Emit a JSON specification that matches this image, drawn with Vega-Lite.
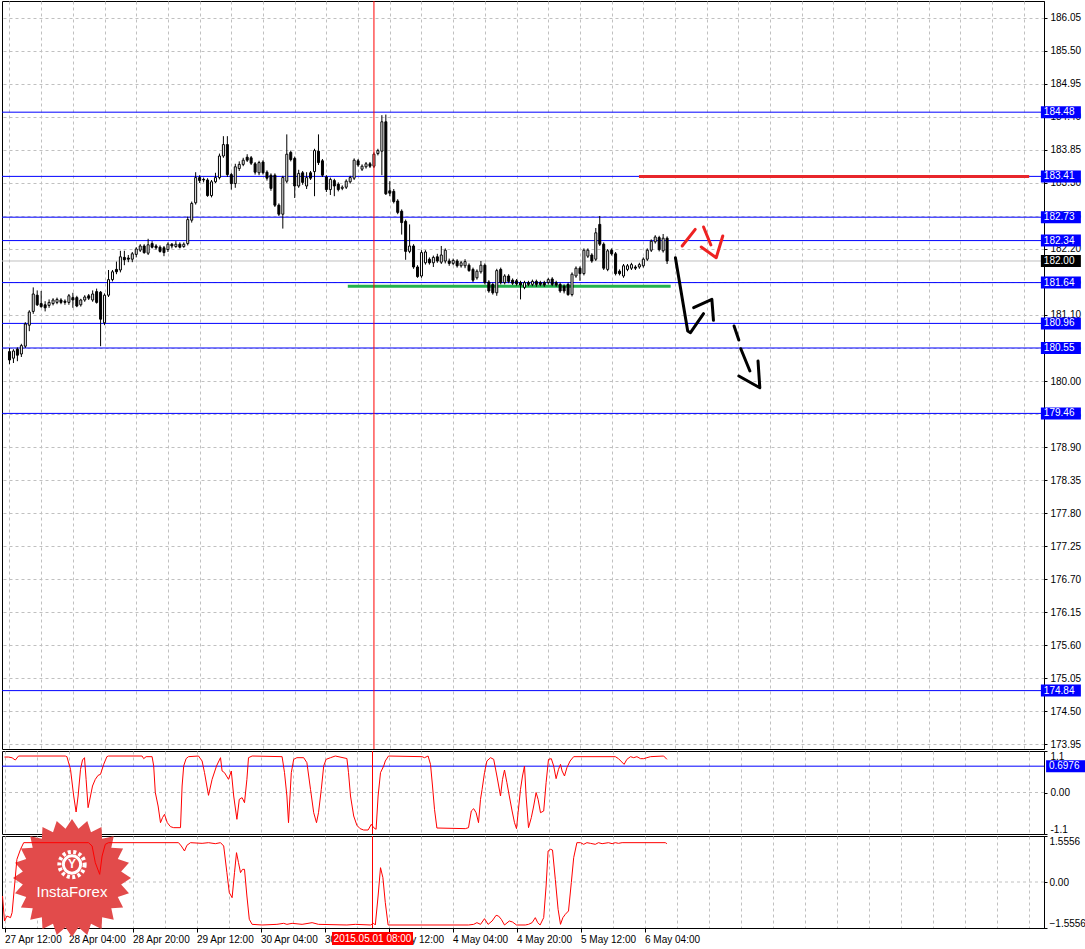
{
  "$schema": "https://vega.github.io/schema/vega-lite/v6.json",
  "background": "#ffffff",
  "padding": 0,
  "spacing": 2,
  "bounds": "flush",
  "config": {
    "view": {"stroke": "#000000", "strokeWidth": 1},
    "font": "Liberation Sans",
    "axis": {"labelFont": "Liberation Sans", "labelFontSize": 10, "labelColor": "#000000", "tickColor": "#000000", "domainColor": "#000000", "gridColor": "#c0c0c0", "gridDash": [3, 3], "gridWidth": 1}
  },
  "datasets": {
    "one": [{}],
    "candles": [
      {"i":0,"o":180.49,"h":180.55,"l":180.28,"c":180.35},{"i":1,"o":180.38,"h":180.53,"l":180.3,"c":180.5},{"i":2,"o":180.53,"h":180.56,"l":180.33,"c":180.43},{"i":3,"o":180.45,"h":180.62,"l":180.4,"c":180.59},{"i":4,"o":180.58,"h":180.98,"l":180.55,"c":180.95},{"i":5,"o":180.93,"h":181.18,"l":180.83,"c":181.15},{"i":6,"o":181.16,"h":181.56,"l":181.12,"c":181.45},{"i":7,"o":181.43,"h":181.51,"l":181.25,"c":181.27},{"i":8,"o":181.29,"h":181.5,"l":181.22,"c":181.24},{"i":9,"o":181.27,"h":181.33,"l":181.16,"c":181.22},
      {"i":10,"o":181.26,"h":181.36,"l":181.22,"c":181.31},{"i":11,"o":181.29,"h":181.38,"l":181.26,"c":181.35},{"i":12,"o":181.31,"h":181.39,"l":181.28,"c":181.36},{"i":13,"o":181.35,"h":181.38,"l":181.28,"c":181.31},{"i":14,"o":181.33,"h":181.36,"l":181.27,"c":181.31},{"i":15,"o":181.31,"h":181.45,"l":181.27,"c":181.42},{"i":16,"o":181.39,"h":181.47,"l":181.22,"c":181.35},{"i":17,"o":181.39,"h":181.42,"l":181.23,"c":181.25},{"i":18,"o":181.27,"h":181.37,"l":181.24,"c":181.35},{"i":19,"o":181.35,"h":181.43,"l":181.32,"c":181.4},
      {"i":20,"o":181.42,"h":181.45,"l":181.35,"c":181.38},{"i":21,"o":181.35,"h":181.51,"l":181.32,"c":181.45},{"i":22,"o":181.49,"h":181.54,"l":181.29,"c":181.31},{"i":23,"o":181.48,"h":181.5,"l":180.58,"c":181.03},{"i":24,"o":180.97,"h":181.46,"l":180.93,"c":181.43},{"i":25,"o":181.43,"h":181.85,"l":181.4,"c":181.69},{"i":26,"o":181.69,"h":181.85,"l":181.66,"c":181.82},{"i":27,"o":181.86,"h":181.99,"l":181.78,"c":181.82},{"i":28,"o":181.85,"h":182.17,"l":181.81,"c":182.07},{"i":29,"o":182.06,"h":182.17,"l":181.93,"c":182.02},
      {"i":30,"o":182.05,"h":182.1,"l":181.98,"c":182.03},{"i":31,"o":182.03,"h":182.15,"l":181.98,"c":182.12},{"i":32,"o":182.11,"h":182.23,"l":182.06,"c":182.2},{"i":33,"o":182.18,"h":182.28,"l":182.15,"c":182.25},{"i":34,"o":182.25,"h":182.28,"l":182.12,"c":182.14},{"i":35,"o":182.13,"h":182.37,"l":182.1,"c":182.27},{"i":36,"o":182.29,"h":182.33,"l":182.21,"c":182.23},{"i":37,"o":182.25,"h":182.28,"l":182.19,"c":182.22},{"i":38,"o":182.23,"h":182.26,"l":182.14,"c":182.16},{"i":39,"o":182.22,"h":182.25,"l":182.08,"c":182.14},
      {"i":40,"o":182.19,"h":182.31,"l":182.15,"c":182.28},{"i":41,"o":182.28,"h":182.3,"l":182.21,"c":182.25},{"i":42,"o":182.24,"h":182.33,"l":182.22,"c":182.28},{"i":43,"o":182.28,"h":182.31,"l":182.21,"c":182.23},{"i":44,"o":182.24,"h":182.31,"l":182.22,"c":182.28},{"i":45,"o":182.29,"h":182.74,"l":182.26,"c":182.69},{"i":46,"o":182.68,"h":182.99,"l":182.64,"c":182.96},{"i":47,"o":182.97,"h":183.48,"l":182.94,"c":183.39},{"i":48,"o":183.39,"h":183.43,"l":183.3,"c":183.34},{"i":49,"o":183.36,"h":183.39,"l":183.31,"c":183.35},
      {"i":50,"o":183.35,"h":183.38,"l":183.07,"c":183.09},{"i":51,"o":183.09,"h":183.35,"l":183.06,"c":183.32},{"i":52,"o":183.32,"h":183.47,"l":183.3,"c":183.39},{"i":53,"o":183.39,"h":183.79,"l":183.36,"c":183.75},{"i":54,"o":183.75,"h":184.08,"l":183.72,"c":183.94},{"i":55,"o":183.94,"h":184.08,"l":183.4,"c":183.44},{"i":56,"o":183.44,"h":183.47,"l":183.19,"c":183.29},{"i":57,"o":183.29,"h":183.62,"l":183.22,"c":183.57},{"i":58,"o":183.54,"h":183.66,"l":183.5,"c":183.61},{"i":59,"o":183.61,"h":183.72,"l":183.58,"c":183.68},
      {"i":60,"o":183.73,"h":183.78,"l":183.65,"c":183.68},{"i":61,"o":183.72,"h":183.75,"l":183.6,"c":183.63},{"i":62,"o":183.62,"h":183.65,"l":183.44,"c":183.48},{"i":63,"o":183.47,"h":183.67,"l":183.43,"c":183.64},{"i":64,"o":183.65,"h":183.68,"l":183.44,"c":183.47},{"i":65,"o":183.48,"h":183.51,"l":183.34,"c":183.38},{"i":66,"o":183.43,"h":183.46,"l":183.17,"c":183.21},{"i":67,"o":183.43,"h":183.46,"l":182.9,"c":182.93},{"i":68,"o":182.93,"h":182.96,"l":182.75,"c":182.78},{"i":69,"o":182.78,"h":183.42,"l":182.54,"c":183.39},
      {"i":70,"o":183.33,"h":184.11,"l":183.3,"c":183.78},{"i":71,"o":183.81,"h":183.84,"l":183.66,"c":183.69},{"i":72,"o":183.71,"h":183.74,"l":183.05,"c":183.25},{"i":73,"o":183.25,"h":183.52,"l":183.22,"c":183.46},{"i":74,"o":183.47,"h":183.5,"l":183.27,"c":183.31},{"i":75,"o":183.25,"h":183.48,"l":183.2,"c":183.39},{"i":76,"o":183.47,"h":183.5,"l":183.35,"c":183.38},{"i":77,"o":183.49,"h":183.87,"l":183.08,"c":183.84},{"i":78,"o":183.83,"h":184.11,"l":183.6,"c":183.64},{"i":79,"o":183.67,"h":183.7,"l":183.4,"c":183.43},
      {"i":80,"o":183.4,"h":183.43,"l":183.15,"c":183.19},{"i":81,"o":183.19,"h":183.39,"l":183.1,"c":183.36},{"i":82,"o":183.34,"h":183.37,"l":183.08,"c":183.25},{"i":83,"o":183.28,"h":183.31,"l":183.16,"c":183.19},{"i":84,"o":183.21,"h":183.26,"l":183.18,"c":183.23},{"i":85,"o":183.23,"h":183.36,"l":183.2,"c":183.33},{"i":86,"o":183.32,"h":183.42,"l":183.29,"c":183.39},{"i":87,"o":183.38,"h":183.71,"l":183.35,"c":183.68},{"i":88,"o":183.67,"h":183.7,"l":183.57,"c":183.6},{"i":89,"o":183.53,"h":183.61,"l":183.5,"c":183.58},
      {"i":90,"o":183.57,"h":183.65,"l":183.54,"c":183.62},{"i":91,"o":183.62,"h":183.65,"l":183.55,"c":183.58},{"i":92,"o":183.58,"h":183.81,"l":183.55,"c":183.78},{"i":93,"o":183.79,"h":183.87,"l":183.76,"c":183.84},{"i":94,"o":183.83,"h":184.43,"l":183.43,"c":184.32},{"i":95,"o":184.32,"h":184.44,"l":183.1,"c":183.12},{"i":96,"o":183.17,"h":183.33,"l":183.08,"c":183.13},{"i":97,"o":183.16,"h":183.2,"l":182.96,"c":182.99},{"i":98,"o":183.0,"h":183.03,"l":182.78,"c":182.81},{"i":99,"o":182.83,"h":182.86,"l":182.44,"c":182.64},
      {"i":100,"o":182.66,"h":182.69,"l":182.02,"c":182.16},{"i":101,"o":182.16,"h":182.61,"l":182.13,"c":182.25},{"i":102,"o":182.25,"h":182.28,"l":181.87,"c":181.9},{"i":103,"o":181.9,"h":181.93,"l":181.72,"c":181.74},{"i":104,"o":181.75,"h":182.18,"l":181.72,"c":182.14},{"i":105,"o":181.97,"h":182.18,"l":181.94,"c":182.15},{"i":106,"o":182.03,"h":182.06,"l":181.94,"c":181.97},{"i":107,"o":181.97,"h":182.09,"l":181.9,"c":182.06},{"i":108,"o":182.07,"h":182.12,"l":181.97,"c":182.0},{"i":109,"o":181.98,"h":182.25,"l":181.95,"c":182.1},
      {"i":110,"o":182.0,"h":182.21,"l":181.96,"c":182.18},{"i":111,"o":182.0,"h":182.04,"l":181.92,"c":181.96},{"i":112,"o":181.96,"h":182.04,"l":181.93,"c":182.01},{"i":113,"o":182.0,"h":182.03,"l":181.89,"c":181.92},{"i":114,"o":181.92,"h":182.0,"l":181.89,"c":181.97},{"i":115,"o":181.92,"h":182.03,"l":181.88,"c":181.99},{"i":116,"o":181.93,"h":181.96,"l":181.82,"c":181.84},{"i":117,"o":181.86,"h":181.89,"l":181.65,"c":181.68},{"i":118,"o":181.72,"h":181.86,"l":181.69,"c":181.83},{"i":119,"o":181.82,"h":182.0,"l":181.79,"c":181.93},
      {"i":120,"o":181.93,"h":181.96,"l":181.61,"c":181.64},{"i":121,"o":181.65,"h":181.68,"l":181.47,"c":181.5},{"i":122,"o":181.61,"h":181.64,"l":181.44,"c":181.47},{"i":123,"o":181.47,"h":181.87,"l":181.42,"c":181.84},{"i":124,"o":181.86,"h":181.89,"l":181.61,"c":181.64},{"i":125,"o":181.64,"h":181.78,"l":181.61,"c":181.75},{"i":126,"o":181.75,"h":181.78,"l":181.63,"c":181.66},{"i":127,"o":181.68,"h":181.71,"l":181.6,"c":181.63},{"i":128,"o":181.67,"h":181.7,"l":181.59,"c":181.62},{"i":129,"o":181.64,"h":181.67,"l":181.36,"c":181.6},
      {"i":130,"o":181.56,"h":181.67,"l":181.53,"c":181.64},{"i":131,"o":181.64,"h":181.67,"l":181.58,"c":181.61},{"i":132,"o":181.61,"h":181.69,"l":181.58,"c":181.66},{"i":133,"o":181.66,"h":181.69,"l":181.57,"c":181.61},{"i":134,"o":181.64,"h":181.67,"l":181.58,"c":181.61},{"i":135,"o":181.64,"h":181.67,"l":181.57,"c":181.6},{"i":136,"o":181.64,"h":181.72,"l":181.61,"c":181.69},{"i":137,"o":181.7,"h":181.73,"l":181.58,"c":181.61},{"i":138,"o":181.64,"h":181.67,"l":181.57,"c":181.6},{"i":139,"o":181.61,"h":181.64,"l":181.47,"c":181.5},
      {"i":140,"o":181.58,"h":181.61,"l":181.46,"c":181.5},{"i":141,"o":181.61,"h":181.64,"l":181.42,"c":181.44},{"i":142,"o":181.44,"h":181.81,"l":181.41,"c":181.78},{"i":143,"o":181.75,"h":181.91,"l":181.72,"c":181.88},{"i":144,"o":181.88,"h":181.91,"l":181.67,"c":181.79},{"i":145,"o":181.79,"h":182.21,"l":181.76,"c":182.18},{"i":146,"o":182.08,"h":182.21,"l":182.05,"c":182.18},{"i":147,"o":182.1,"h":182.13,"l":181.97,"c":182.0},{"i":148,"o":182.03,"h":182.55,"l":182.0,"c":182.47},{"i":149,"o":182.61,"h":182.75,"l":182.25,"c":182.28},
      {"i":150,"o":182.28,"h":182.31,"l":181.85,"c":181.88},{"i":151,"o":181.86,"h":182.2,"l":181.83,"c":182.17},{"i":152,"o":182.18,"h":182.21,"l":182.09,"c":182.12},{"i":153,"o":182.12,"h":182.15,"l":181.76,"c":181.79},{"i":154,"o":181.83,"h":181.86,"l":181.76,"c":181.79},{"i":155,"o":181.75,"h":181.95,"l":181.72,"c":181.92},{"i":156,"o":181.86,"h":181.95,"l":181.83,"c":181.92},{"i":157,"o":181.88,"h":181.97,"l":181.85,"c":181.94},{"i":158,"o":181.9,"h":181.93,"l":181.85,"c":181.88},{"i":159,"o":181.9,"h":181.97,"l":181.87,"c":181.94},
      {"i":160,"o":181.92,"h":182.06,"l":181.89,"c":182.03},{"i":161,"o":182.03,"h":182.21,"l":182.0,"c":182.18},{"i":162,"o":182.18,"h":182.36,"l":182.15,"c":182.33},{"i":163,"o":182.32,"h":182.43,"l":182.29,"c":182.4},{"i":164,"o":182.39,"h":182.42,"l":182.16,"c":182.19},{"i":165,"o":182.17,"h":182.45,"l":182.14,"c":182.38},{"i":166,"o":182.38,"h":182.41,"l":181.95,"c":182.0}
    ],
    "levels": [
      {"p":184.48,"k":"level"},{"p":183.41,"k":"level"},{"p":182.73,"k":"level"},{"p":182.34,"k":"level"},{"p":182.0,"k":"bid"},{"p":181.64,"k":"level"},{"p":180.96,"k":"level"},{"p":180.55,"k":"level"},{"p":179.46,"k":"level"},{"p":174.84,"k":"level"}
    ],
    "segs": [
      {"k":"res","a":158.9,"b":257.4,"p":183.41},
      {"k":"sup","a":85.4,"b":166.9,"p":181.58}
    ],
    "draw": [
      {"s":1,"k":"black","o":1,"i":168.1,"p":182.055},{"s":1,"k":"black","o":2,"i":171.2,"p":180.833},{"s":1,"k":"black","o":3,"i":171.9,"p":180.805},{"s":1,"k":"black","o":4,"i":175.2,"p":181.122},
      {"s":2,"k":"black","o":1,"i":172.7,"p":181.222},{"s":2,"k":"black","o":2,"i":177.3,"p":181.362},{"s":2,"k":"black","o":3,"i":177.7,"p":181.012},
      {"s":3,"k":"black","o":1,"i":182.9,"p":180.917},{"s":3,"k":"black","o":2,"i":184.1,"p":180.683},
      {"s":4,"k":"black","o":1,"i":184.6,"p":180.538},{"s":4,"k":"black","o":2,"i":186.9,"p":180.167},
      {"s":5,"k":"black","o":1,"i":184.1,"p":180.083},{"s":5,"k":"black","o":2,"i":189.4,"p":179.888},{"s":5,"k":"black","o":3,"i":188.95,"p":180.333},
      {"s":6,"k":"red","o":1,"i":169.8,"p":182.25},{"s":6,"k":"red","o":2,"i":173.1,"p":182.528},
      {"s":7,"k":"red","o":1,"i":175.2,"p":182.567},{"s":7,"k":"red","o":2,"i":177.05,"p":182.267},
      {"s":8,"k":"red","o":1,"i":174.6,"p":182.233},{"s":8,"k":"red","o":2,"i":178.4,"p":182.055},{"s":8,"k":"red","o":3,"i":180.05,"p":182.417}
    ],
    "ind1": [
      {"i":0,"v":0.94},{"i":1,"v":0.94},{"i":1.9,"v":0.92},{"i":2.7,"v":0.86},{"i":3.5,"v":0.967},{"i":15.2,"v":0.967},{"i":15.6,"v":0.95},{"i":16.5,"v":0.614},{"i":17.3,"v":-0.093},{"i":17.9,"v":-0.517},{"i":18.4,"v":-0.093},{"i":19,"v":0.614},{"i":19.5,"v":0.861},{"i":20,"v":0.923},{"i":20.4,"v":0.349},{"i":20.9,"v":-0.402},{"i":21.5,"v":-0.093},{"i":22,"v":0.172},{"i":22.7,"v":0.349},{"i":23.4,"v":0.455},{"i":24,"v":0.481},{"i":24.8,"v":0.746},{"i":25.6,"v":0.95},{"i":26,"v":0.967},{"i":34.4,"v":0.967},{"i":34.8,"v":0.897},{"i":35.4,"v":0.95},{"i":36.9,"v":0.95},{"i":37.3,"v":0.702},{"i":37.7,"v":0},{"i":38.4,"v":-0.358},{"i":39,"v":-0.8},{"i":39.5,"v":-0.667},{"i":40,"v":-0.579},{"i":40.7,"v":-0.8},{"i":41.5,"v":-0.906},{"i":42.3,"v":-0.932},{"i":44,"v":-0.932},{"i":44.4,"v":0.172},{"i":44.8,"v":0.702},{"i":45.4,"v":0.897},{"i":46,"v":0.95},{"i":48.5,"v":0.967},{"i":49.4,"v":0.835},{"i":50,"v":0.526},{"i":51,"v":-0.075},{"i":51.9,"v":0.349},{"i":53,"v":0.702},{"i":54,"v":0.923},{"i":54.4,"v":0.57},{"i":55,"v":0.526},{"i":56,"v":0.349},{"i":56.7,"v":0.57},{"i":57.3,"v":-0.093},{"i":58.1,"v":-0.711},{"i":58.7,"v":-0.181},{"i":59.4,"v":-0.137},{"i":60,"v":-0.27},{"i":60.6,"v":0.349},{"i":61,"v":0.923},{"i":61.9,"v":0.967},{"i":69.4,"v":0.95},{"i":70,"v":0.526},{"i":70.6,"v":-0.093},{"i":71,"v":-0.8},{"i":71.7,"v":0.526},{"i":72.3,"v":0.879},{"i":73.1,"v":0.923},{"i":74.8,"v":0.923},{"i":75.6,"v":0.79},{"i":76.5,"v":0.084},{"i":77.3,"v":-0.535},{"i":78,"v":-0.8},{"i":78.5,"v":-0.535},{"i":79.2,"v":0.084},{"i":79.8,"v":0.702},{"i":80.4,"v":0.879},{"i":81.5,"v":0.923},{"i":82.7,"v":0.967},{"i":85.6,"v":0.9},{"i":86,"v":0.526},{"i":86.5,"v":-0.093},{"i":87.3,"v":-0.623},{"i":88.1,"v":-0.87},{"i":88.9,"v":-0.958},{"i":89.8,"v":-0.994},{"i":90.9,"v":-0.994},{"i":91.7,"v":-0.844},{"i":92.3,"v":-0.932},{"i":92.9,"v":-0.976},{"i":93.4,"v":-0.093},{"i":94,"v":0.526},{"i":94.8,"v":0.702},{"i":95.2,"v":0.835},{"i":96,"v":0.967},{"i":104.4,"v":0.95},{"i":105,"v":0.923},{"i":105.9,"v":0.967},{"i":106.5,"v":0.746},{"i":107,"v":0.172},{"i":107.5,"v":-0.446},{"i":108.1,"v":-0.941},{"i":115.2,"v":-0.958},{"i":116,"v":-0.932},{"i":116.7,"v":-0.49},{"i":117.3,"v":-0.429},{"i":117.9,"v":-0.535},{"i":118.5,"v":-0.8},{"i":119,"v":-0.181},{"i":119.4,"v":0.084},{"i":120,"v":0.526},{"i":120.6,"v":0.835},{"i":121.5,"v":0.923},{"i":122.3,"v":0.879},{"i":123.1,"v":0.437},{"i":124,"v":-0.093},{"i":124.5,"v":0.349},{"i":125,"v":0.596},{"i":125.6,"v":0.261},{"i":126.2,"v":-0.093},{"i":126.9,"v":-0.49},{"i":127.5,"v":-0.8},{"i":128,"v":-0.958},{"i":128.4,"v":-0.535},{"i":129,"v":0.084},{"i":129.5,"v":0.437},{"i":130,"v":0.702},{"i":130.4,"v":-0.093},{"i":131,"v":-0.932},{"i":131.7,"v":-0.667},{"i":132.3,"v":-0.358},{"i":132.9,"v":0},{"i":133.4,"v":-0.181},{"i":134,"v":-0.535},{"i":134.8,"v":-0.49},{"i":135.4,"v":0.261},{"i":136,"v":0.879},{"i":136.7,"v":0.897},{"i":137.3,"v":0.702},{"i":137.9,"v":0.367},{"i":138.5,"v":0.614},{"i":139,"v":0.746},{"i":139.4,"v":0.57},{"i":140,"v":0.437},{"i":140.6,"v":0.658},{"i":141.4,"v":0.835},{"i":142.3,"v":0.95},{"i":152.7,"v":0.95},{"i":153.5,"v":0.897},{"i":154.9,"v":0.746},{"i":155.6,"v":0.879},{"i":156.5,"v":0.95},{"i":157.3,"v":0.923},{"i":158.1,"v":0.95},{"i":159,"v":0.897},{"i":159.8,"v":0.897},{"i":160.6,"v":0.923},{"i":161.5,"v":0.95},{"i":164.8,"v":0.967},{"i":165.6,"v":0.879}
    ],
    "ind2": [
      {"i":-0.5,"v":-0.473},{"i":0,"v":-1.32},{"i":0.6,"v":-1.15},{"i":1.5,"v":-1.206},{"i":1.9,"v":-1.037},{"i":2.5,"v":-0.135},{"i":3.1,"v":0.766},{"i":4,"v":1.105},{"i":4.8,"v":1.33},{"i":21,"v":1.33},{"i":21.9,"v":1.217},{"i":22.7,"v":0.654},{"i":23.8,"v":0.259},{"i":24.4,"v":0.879},{"i":25.2,"v":1.274},{"i":26,"v":1.33},{"i":43.5,"v":1.33},{"i":44.2,"v":1.217},{"i":45,"v":1.048},{"i":45.6,"v":1.24},{"i":46.5,"v":1.33},{"i":49.4,"v":1.307},{"i":51,"v":1.33},{"i":52.7,"v":1.296},{"i":54,"v":1.33},{"i":54.8,"v":1.217},{"i":55.6,"v":0.316},{"i":56.2,"v":-0.361},{"i":56.9,"v":-0.53},{"i":57.5,"v":0.316},{"i":58,"v":0.992},{"i":58.5,"v":0.654},{"i":59,"v":0.316},{"i":59.5,"v":0.428},{"i":60,"v":0.428},{"i":60.6,"v":-0.473},{"i":61.2,"v":-1.262},{"i":61.9,"v":-1.432},{"i":64.4,"v":-1.454},{"i":68.1,"v":-1.432},{"i":69.8,"v":-1.398},{"i":70.6,"v":-1.432},{"i":71.9,"v":-1.398},{"i":74.4,"v":-1.432},{"i":76.9,"v":-1.375},{"i":78.5,"v":-1.432},{"i":85.6,"v":-1.454},{"i":87.7,"v":-1.432},{"i":91.5,"v":-1.454},{"i":92.3,"v":-1.398},{"i":92.7,"v":-1.454},{"i":93.4,"v":-0.473},{"i":94,"v":0.485},{"i":94.6,"v":0.147},{"i":95.2,"v":-0.699},{"i":95.9,"v":-1.454},{"i":116,"v":-1.454},{"i":117.3,"v":-1.432},{"i":118.1,"v":-1.375},{"i":119,"v":-1.432},{"i":120,"v":-1.24},{"i":120.9,"v":-1.432},{"i":121.9,"v":-1.319},{"i":122.9,"v":-1.127},{"i":123.5,"v":-1.15},{"i":124.2,"v":-1.262},{"i":125,"v":-1.454},{"i":126.2,"v":-1.319},{"i":127,"v":-1.353},{"i":128,"v":-1.454},{"i":130.2,"v":-1.454},{"i":131,"v":-1.432},{"i":131.9,"v":-1.375},{"i":132.7,"v":-1.206},{"i":133.3,"v":-1.375},{"i":133.9,"v":-1.454},{"i":134.8,"v":-1.206},{"i":135.4,"v":-0.135},{"i":135.9,"v":1.048},{"i":136.5,"v":1.105},{"i":137,"v":1.082},{"i":137.7,"v":0.09},{"i":138.4,"v":-0.924},{"i":139,"v":-1.432},{"i":139.6,"v":-1.206},{"i":140.2,"v":-1.093},{"i":141,"v":-0.98},{"i":141.7,"v":-0.023},{"i":142.3,"v":0.823},{"i":143.1,"v":1.33},{"i":144,"v":1.33},{"i":144.8,"v":1.274},{"i":145.6,"v":1.33},{"i":146.5,"v":1.307},{"i":147.7,"v":1.274},{"i":148.5,"v":1.33},{"i":149.4,"v":1.296},{"i":151,"v":1.33},{"i":151.9,"v":1.296},{"i":152.7,"v":1.33},{"i":153.5,"v":1.307},{"i":154.4,"v":1.33},{"i":165.2,"v":1.33},{"i":165.6,"v":1.296}
    ]
  },
  "vconcat": [
    {
      "width": 1042,
      "height": 748,
      "layer": [
        {
          "data": {"name": "levels"},
          "mark": {"type": "rule", "strokeWidth": 1},
          "encoding": {
            "y": {"field": "p", "type": "quantitative", "scale": {"domain": [173.867, 186.333], "nice": false, "zero": false},
                  "axis": {"orient": "right", "title": null, "values": [173.95,174.5,175.05,175.6,176.15,176.7,177.25,177.8,178.35,178.9,179.45,180,180.55,181.1,181.65,182.2,182.75,183.3,183.85,184.4,184.95,185.5,186.05], "tickCount": 200, "format": ".2f", "tickSize": 3, "labelPadding": 3, "grid": true, "domain": true, "labelOverlap": false}},
            "stroke": {"field": "k", "type": "nominal", "scale": {"domain": ["level","bid","res","sup","black","red"], "range": ["#0000ff","#c0c0c0","#e8262b","#22b14c","#000000","#ee2222"]}, "legend": null}
          }
        },
        {
          "data": {"name": "segs"},
          "mark": {"type": "rule", "strokeWidth": 3},
          "encoding": {
            "x": {"field": "a", "type": "quantitative", "scale": {"domain": [-0.625, 259.875], "nice": false, "zero": false},
                  "axis": {"title": null, "values": [0,8,16,24,32,40,48,56,64,72,80,88,96,104,112,120,128,136,144,152,160,168,176,184,192,200,208,216,224,232,240,248,256], "tickCount": 200, "labels": false, "ticks": false, "domain": false, "grid": true}},
            "x2": {"field": "b"},
            "y": {"field": "p", "type": "quantitative", "scale": {"domain": [173.867, 186.333], "nice": false, "zero": false}},
            "stroke": {"field": "k", "type": "nominal", "scale": {"domain": ["level","bid","res","sup","black","red"], "range": ["#0000ff","#c0c0c0","#e8262b","#22b14c","#000000","#ee2222"]}, "legend": null}
          }
        },
        {
          "data": {"name": "candles"},
          "mark": {"type": "rule", "color": "#000000", "strokeWidth": 1},
          "encoding": {
            "x": {"field": "i", "type": "quantitative"},
            "y": {"field": "l", "type": "quantitative"},
            "y2": {"field": "h"}
          }
        },
        {
          "data": {"name": "candles"},
          "mark": {"type": "bar", "width": 2, "stroke": "#000000", "strokeWidth": 1},
          "encoding": {
            "x": {"field": "i", "type": "quantitative"},
            "y": {"field": "o", "type": "quantitative"},
            "y2": {"field": "c"},
            "fill": {"condition": {"test": "datum.c >= datum.o", "value": "#ffffff"}, "value": "#000000"}
          }
        },
        {
          "data": {"name": "one"},
          "mark": {"type": "rule", "color": "#ff0000", "strokeWidth": 1},
          "encoding": {"x": {"datum": 92, "type": "quantitative"}}
        },
        {
          "data": {"name": "draw"},
          "mark": {"type": "line", "strokeWidth": 3, "strokeCap": "round", "strokeJoin": "round"},
          "encoding": {
            "x": {"field": "i", "type": "quantitative"},
            "y": {"field": "p", "type": "quantitative"},
            "detail": {"field": "s", "type": "nominal"},
            "order": {"field": "o", "type": "quantitative"},
            "stroke": {"field": "k", "type": "nominal", "scale": {"domain": ["level","bid","res","sup","black","red"], "range": ["#0000ff","#c0c0c0","#e8262b","#22b14c","#000000","#ee2222"]}, "legend": null}
          }
        },
        {
          "data": {"name": "levels"},
          "mark": {"type": "point", "shape": "M-1,-0.3H1V0.3H-1Z", "filled": true, "size": 1600, "opacity": 1, "strokeWidth": 0},
          "encoding": {
            "x": {"datum": 265.4, "type": "quantitative"},
            "y": {"field": "p", "type": "quantitative"},
            "fill": {"field": "k", "type": "nominal", "scale": {"domain": ["level","bid"], "range": ["#0000ff","#000000"]}, "legend": null}
          }
        },
        {
          "data": {"name": "levels"},
          "mark": {"type": "text", "align": "left", "baseline": "middle", "color": "#ffffff", "font": "Liberation Sans", "fontSize": 10},
          "encoding": {
            "x": {"datum": 261.1, "type": "quantitative"},
            "y": {"field": "p", "type": "quantitative"},
            "text": {"field": "p", "type": "quantitative", "format": ".2f"}
          }
        }
      ]
    },
    {
      "width": 1042,
      "height": 83,
      "layer": [
        {
          "data": {"name": "one"},
          "mark": {"type": "rule", "color": "#c0c0c0", "strokeWidth": 1, "strokeDash": [3, 3]},
          "encoding": {"y": {"datum": 0, "type": "quantitative", "scale": {"domain": [-1.1, 1.1], "nice": false, "zero": false}}}
        },
        {
          "data": {"name": "one"},
          "mark": {"type": "rule", "color": "#0000ff", "strokeWidth": 1},
          "encoding": {"y": {"datum": 0.6976, "type": "quantitative"}}
        },
        {
          "data": {"name": "ind1"},
          "mark": {"type": "line", "color": "#ff0000", "strokeWidth": 1},
          "encoding": {
            "x": {"field": "i", "type": "quantitative", "scale": {"domain": [-0.625, 259.875], "nice": false, "zero": false},
                  "axis": {"title": null, "values": [0,8,16,24,32,40,48,56,64,72,80,88,96,104,112,120,128,136,144,152,160,168,176,184,192,200,208,216,224,232,240,248,256], "tickCount": 200, "labels": false, "ticks": false, "domain": false, "grid": true}},
            "y": {"field": "v", "type": "quantitative", "scale": {"domain": [-1.1, 1.1], "nice": false, "zero": false},
                  "axis": {"orient": "right", "title": null, "values": [-1.1, 0, 1.1], "tickCount": 200, "labelExpr": "datum.value == 0 ? '0.00' : (datum.value > 0 ? '1.1' : '-1.1')", "labelFlush": true, "tickSize": 3, "labelPadding": 3, "grid": false, "labelOverlap": false}}
          }
        },
        {
          "data": {"name": "one"},
          "mark": {"type": "rule", "color": "#ff0000", "strokeWidth": 1},
          "encoding": {"x": {"datum": 92, "type": "quantitative"}}
        },
        {
          "data": {"name": "one"},
          "mark": {"type": "point", "shape": "M-1,-0.3H1V0.3H-1Z", "filled": true, "size": 1600, "opacity": 1, "fill": "#0000ff", "strokeWidth": 0},
          "encoding": {
            "x": {"datum": 265.4, "type": "quantitative"},
            "y": {"datum": 0.6976, "type": "quantitative"}
          }
        },
        {
          "data": {"name": "one"},
          "mark": {"type": "text", "align": "left", "baseline": "middle", "color": "#ffffff", "font": "Liberation Sans", "fontSize": 10, "text": "0.6976"},
          "encoding": {
            "x": {"datum": 261.1, "type": "quantitative"},
            "y": {"datum": 0.6976, "type": "quantitative"}
          }
        }
      ]
    },
    {
      "width": 1042,
      "height": 92,
      "layer": [
        {
          "data": {"name": "one"},
          "mark": {"type": "rule", "color": "#c0c0c0", "strokeWidth": 1, "strokeDash": [3, 3]},
          "encoding": {"y": {"datum": 0, "type": "quantitative", "scale": {"domain": [-1.5556, 1.5556], "nice": false, "zero": false}}}
        },
        {
          "data": {"name": "one"},
          "mark": {"type": "point", "shape": "M1,0L0.833,0.11L0.966,0.259L0.776,0.322L0.866,0.5L0.666,0.511L0.707,0.707L0.511,0.666L0.5,0.866L0.322,0.776L0.259,0.966L0.11,0.833L0,1L-0.11,0.833L-0.259,0.966L-0.322,0.776L-0.5,0.866L-0.511,0.666L-0.707,0.707L-0.666,0.511L-0.866,0.5L-0.776,0.322L-0.966,0.259L-0.833,0.11L-1,0L-0.833,-0.11L-0.966,-0.259L-0.776,-0.322L-0.866,-0.5L-0.666,-0.511L-0.707,-0.707L-0.511,-0.666L-0.5,-0.866L-0.322,-0.776L-0.259,-0.966L-0.11,-0.833L0,-1L0.11,-0.833L0.259,-0.966L0.322,-0.776L0.5,-0.866L0.511,-0.666L0.707,-0.707L0.666,-0.511L0.866,-0.5L0.776,-0.322L0.966,-0.259L0.833,-0.11Z",
                   "filled": true, "size": 13924, "opacity": 1, "strokeWidth": 0, "fill": "#e24b4b"},
          "encoding": {
            "x": {"datum": 16.875, "type": "quantitative", "scale": {"domain": [-0.625, 259.875], "nice": false, "zero": false}},
            "y": {"datum": 0.135, "type": "quantitative"}
          }
        },
        {
          "data": {"name": "one"},
          "mark": {"type": "point", "shape": "circle", "filled": false, "size": 640, "stroke": "#ffffff", "strokeWidth": 4, "strokeDash": [3, 2.5], "opacity": 1},
          "encoding": {
            "x": {"datum": 16.875, "type": "quantitative"},
            "y": {"datum": 0.592, "type": "quantitative"}
          }
        },
        {
          "data": {"name": "one"},
          "mark": {"type": "point", "shape": "circle", "filled": false, "size": 300, "stroke": "#ffffff", "strokeWidth": 3, "opacity": 1},
          "encoding": {
            "x": {"datum": 16.875, "type": "quantitative"},
            "y": {"datum": 0.592, "type": "quantitative"}
          }
        },
        {
          "data": {"name": "one"},
          "mark": {"type": "text", "align": "center", "baseline": "middle", "color": "#ffffff", "font": "Liberation Sans", "fontSize": 12, "fontWeight": "bold", "text": "Y"},
          "encoding": {
            "x": {"datum": 16.875, "type": "quantitative"},
            "y": {"datum": 0.592, "type": "quantitative"}
          }
        },
        {
          "data": {"name": "one"},
          "mark": {"type": "text", "align": "center", "baseline": "middle", "color": "#ffffff", "font": "Liberation Sans", "fontSize": 15, "text": "InstaForex"},
          "encoding": {
            "x": {"datum": 16.875, "type": "quantitative"},
            "y": {"datum": -0.355, "type": "quantitative"}
          }
        },
        {
          "data": {"name": "ind2"},
          "mark": {"type": "line", "color": "#ff0000", "strokeWidth": 1},
          "encoding": {
            "x": {"field": "i", "type": "quantitative", "scale": {"domain": [-0.625, 259.875], "nice": false, "zero": false},
                  "axis": {"title": null, "values": [0,8,16,24,32,40,48,56,64,72,80,88,96,104,112,120,128,136,144,152,160,168,176,184,192,200,208,216,224,232,240,248,256], "tickCount": 200,
                           "labelExpr": "datum.value == 0 ? '27 Apr 12:00' : datum.value == 16 ? '28 Apr 04:00' : datum.value == 32 ? '28 Apr 20:00' : datum.value == 48 ? '29 Apr 12:00' : datum.value == 64 ? '30 Apr 04:00' : datum.value == 80 ? '30 Apr 20:00' : datum.value == 96 ? '1 May 12:00' : datum.value == 112 ? '4 May 04:00' : datum.value == 128 ? '4 May 20:00' : datum.value == 144 ? '5 May 12:00' : datum.value == 160 ? '6 May 04:00' : ''",
                           "labelAlign": "left", "labelBaseline": "top", "labelPadding": 2, "tickSize": 4, "labelOverlap": false, "labelBound": false, "labelFlush": false,
                           "tickOpacity": {"condition": {"test": "datum.value % 16 == 0 && datum.value <= 160", "value": 1}, "value": 0},
                           "grid": true, "domain": true}},
            "y": {"field": "v", "type": "quantitative", "scale": {"domain": [-1.5556, 1.5556], "nice": false, "zero": false},
                  "axis": {"orient": "right", "title": null, "values": [-1.5556, 0, 1.5556], "tickCount": 200, "labelExpr": "datum.value == 0 ? '0.00' : format(datum.value, '.4f')", "labelFlush": true, "tickSize": 3, "labelPadding": 2, "grid": false, "labelOverlap": false}}
          }
        },
        {
          "data": {"name": "one"},
          "mark": {"type": "rule", "color": "#ff0000", "strokeWidth": 1},
          "encoding": {"x": {"datum": 92, "type": "quantitative"}}
        },
        {
          "data": {"name": "one"},
          "mark": {"type": "point", "shape": "M-1,-0.16H1V0.16H-1Z", "filled": true, "size": 6561, "opacity": 1, "fill": "#ff0000", "strokeWidth": 0},
          "encoding": {
            "x": {"datum": 92, "type": "quantitative"},
            "y": {"datum": -1.911, "type": "quantitative"}
          }
        },
        {
          "data": {"name": "one"},
          "mark": {"type": "text", "align": "center", "baseline": "middle", "color": "#ffffff", "font": "Liberation Sans", "fontSize": 10, "text": "2015.05.01 08:00"},
          "encoding": {
            "x": {"datum": 92, "type": "quantitative"},
            "y": {"datum": -1.911, "type": "quantitative"}
          }
        }
      ]
    }
  ]
}
